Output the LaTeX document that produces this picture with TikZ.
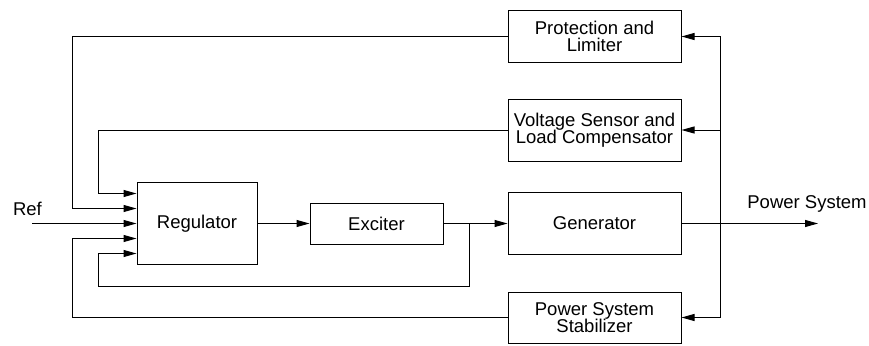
\documentclass[tikz,border=0pt]{standalone}
\usepackage{fontspec}
\setmainfont{Liberation Sans}
\usetikzlibrary{arrows.meta,positioning,calc}
\tikzset{
  every picture/.style={font=\fontsize{18.5}{17.5}\selectfont},
  blk/.style={draw,line width=1pt,inner sep=0pt,align=center},
  wide/.style={blk,minimum width=173pt},
  arr/.style={line width=1pt,-{Triangle[length=13pt,width=7pt]}},
  wire/.style={line width=1pt},
}
\begin{document}
\begin{tikzpicture}[x=1pt,y=-1pt]
  \useasboundingbox (0,0) rectangle (869,345);
  % blocks
  \node[wide,minimum height=51pt] (prot) at (594.5,36.5) {Protection and\\Limiter};
  \node[wide,minimum height=62pt] (volt) at (594.5,130) {Voltage Sensor and\\Load Compensator};
  \node[blk,minimum width=120pt,minimum height=82pt] (reg) at (197,223.5) {Regulator};
  \node[blk,minimum width=133pt,minimum height=41pt] (exc) at (376.5,223.5) {Exciter};
  \node[wide,minimum height=62pt] (gen) at (594.5,223.5) {Generator};
  \node[wide,minimum height=51pt] (pss) at (594.5,317.5) {Power System\\Stabilizer};
  % labels
  \node (ref) at (27.5,209) {Ref};
  \node (ps) at (807,204) {Power System};
  % inputs of the regulator
  \coordinate (in1) at ([yshift=30pt]reg.west);
  \coordinate (in2) at ([yshift=15pt]reg.west);
  \coordinate (in4) at ([yshift=-15pt]reg.west);
  \coordinate (in5) at ([yshift=-30pt]reg.west);
  \coordinate (refin) at (32,223.5);
  % corners and branch points
  \coordinate (pc) at (72,36.5);
  \coordinate (vc) at (98,130);
  \coordinate (sc) at (72,317.5);
  \coordinate (fb) at (98,286);
  \coordinate (br) at (469,223.5);
  \coordinate (bus) at (720,223.5);
  \coordinate (out) at (818,223.5);
  % forward path
  \draw[arr] (refin) -- (reg.west);
  \draw[arr] (reg.east) -- (exc.west);
  \draw[arr] (exc.east) -- (gen.west);
  \draw[arr] (gen.east) -- (out);
  % exciter feedback
  \draw[arr] (br) |- (fb) |- (in5);
  % measured signals
  \draw[arr] (bus) |- (prot.east);
  \draw[arr] (bus) |- (volt.east);
  \draw[arr] (bus) |- (pss.east);
  % back to the regulator
  \draw[arr] (prot.west) -- (pc) |- (in2);
  \draw[arr] (volt.west) -- (vc) |- (in1);
  \draw[arr] (pss.west) -- (sc) |- (in4);
\end{tikzpicture}
\end{document}
